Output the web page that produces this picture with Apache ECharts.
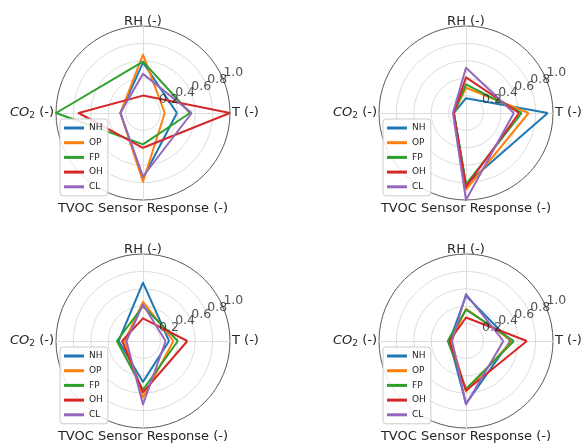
<!DOCTYPE html>
<html>
<head>
<meta charset="utf-8">
<script src="https://cdn.jsdelivr.net/npm/echarts@6/dist/echarts.min.js"></script>
<style>
html,body{margin:0;padding:0;background:#fff;}
#c{width:581px;height:445px;}
</style>
</head>
<body>
<div id="c"></div>
<script>
// Axes, counter-clockwise from the right
const axes = ['T (-)', 'RH (-)', 'CO2 (-)', 'TVOC Sensor Response (-)'];
const groups = ['NH', 'OP', 'FP', 'OH', 'CL'];
const radialTicks = [0.2, 0.4, 0.6, 0.8, 1.0];

// values per panel: [T, RH, CO2, TVOC]
const panel1 = {
  NH: [0.39, 0.58, 0.26, 0.75],
  OP: [0.25, 0.67, 0.26, 0.79],
  FP: [0.54, 0.59, 1.00, 0.36],
  OH: [1.00, 0.20, 0.74, 0.40],
  CL: [0.56, 0.45, 0.26, 0.73]
};
const panel2 = {
  NH: [0.94, 0.17, 0.14, 0.82],
  OP: [0.72, 0.29, 0.14, 0.88],
  FP: [0.64, 0.33, 0.14, 0.82],
  OH: [0.61, 0.41, 0.14, 0.85],
  CL: [0.55, 0.52, 0.15, 1.00]
};
const panel3 = {
  NH: [0.30, 0.67, 0.28, 0.47],
  OP: [0.35, 0.45, 0.21, 0.65],
  FP: [0.40, 0.40, 0.30, 0.56],
  OH: [0.51, 0.26, 0.24, 0.59],
  CL: [0.26, 0.42, 0.19, 0.73]
};
const panel4 = {
  NH: [0.51, 0.52, 0.19, 0.72],
  OP: [0.53, 0.37, 0.17, 0.58],
  FP: [0.55, 0.36, 0.21, 0.55],
  OH: [0.70, 0.27, 0.19, 0.57],
  CL: [0.43, 0.54, 0.16, 0.73]
};
const panels = [panel1, panel2, panel3, panel4];

const colors = ['#1f77b4', '#ff7f0e', '#2ca02c', '#d62728', '#9467bd'];
const centers = [[143, 113], [466, 113], [143, 341], [466, 341]];
const R = 87;
const FONT = 'DejaVu Sans';
const TXT = '#262626';

const radar = [], polar = [], angleAxis = [], radiusAxis = [], series = [], legend = [];
panels.forEach((p, i) => {
  const c = centers[i];
  radar.push({
    center: c, radius: R, startAngle: 0, shape: 'circle', splitNumber: 5,
    indicator: axes.map(n => ({ name: n, min: 0, max: 1 })),
    nameGap: 2,
    axisName: {
      color: TXT, fontSize: 13, fontFamily: FONT,
      formatter: (v) => {
        if (v === 'CO2 (-)') return '{it|CO}{sub|2}{n| (-)}';
        if (v === 'RH (-)') return '{top|RH (-)}';
        return v;
      },
      rich: {
        it: { fontStyle: 'italic', fontSize: 13, fontFamily: FONT, color: TXT },
        sub: { fontSize: 9, fontFamily: FONT, color: TXT, padding: [6, 0, 0, 0] },
        n: { fontSize: 13, fontFamily: FONT, color: TXT },
        top: { fontSize: 13, fontFamily: FONT, color: TXT, lineHeight: 4 }
      }
    },
    splitArea: { show: false },
    splitLine: { lineStyle: { color: ['#dddddd', '#dddddd', '#dddddd', '#dddddd', '#dddddd', '#5a5a5a'], width: 1 } },
    axisLine: { lineStyle: { color: '#dddddd', width: 1 } },
    axisTick: { show: false },
    axisLabel: { show: false }
  });
  polar.push({ center: c, radius: R });
  angleAxis.push({ polarIndex: i, type: 'value', min: 0, max: 360, startAngle: 22.5, show: false });
  radiusAxis.push({ polarIndex: i, type: 'value', min: 0, max: 1, show: false });
  series.push({
    type: 'radar', radarIndex: i, symbol: 'none',
    lineStyle: { width: 2 },
    data: groups.map((g, k) => ({
      name: g, value: p[g],
      lineStyle: { color: colors[k], width: 2 },
      itemStyle: { color: colors[k] }
    }))
  });
  // radial tick labels placed through the polar scale
  series.push({
    type: 'scatter', coordinateSystem: 'polar', polarIndex: i,
    symbolSize: 0, silent: true, z: 5,
    data: radialTicks.map(t => [t, 0]),
    label: {
      show: true, position: 'inside', align: 'left', verticalAlign: 'bottom',
      fontSize: 12.5, fontFamily: FONT, color: TXT,
      formatter: d => d.value[0].toFixed(1)
    }
  });
  legend.push({
    data: groups, orient: 'vertical', left: c[0] - 83, top: c[1] + 6,
    icon: 'rect', itemWidth: 20, itemHeight: 3, itemGap: 2.7,
    padding: [3, 5, 3, 4],
    backgroundColor: 'rgba(255,255,255,0.85)', borderColor: '#cccccc', borderWidth: 1, borderRadius: 3,
    textStyle: { fontSize: 9, lineHeight: 12, fontFamily: FONT, color: TXT },
    selectedMode: false
  });
});

const chart = echarts.init(document.getElementById('c'), null, { renderer: 'canvas' });
chart.setOption({
  animation: false,
  backgroundColor: '#ffffff',
  color: colors,
  radar, polar, angleAxis, radiusAxis, legend, series
});
</script>
</body>
</html>
